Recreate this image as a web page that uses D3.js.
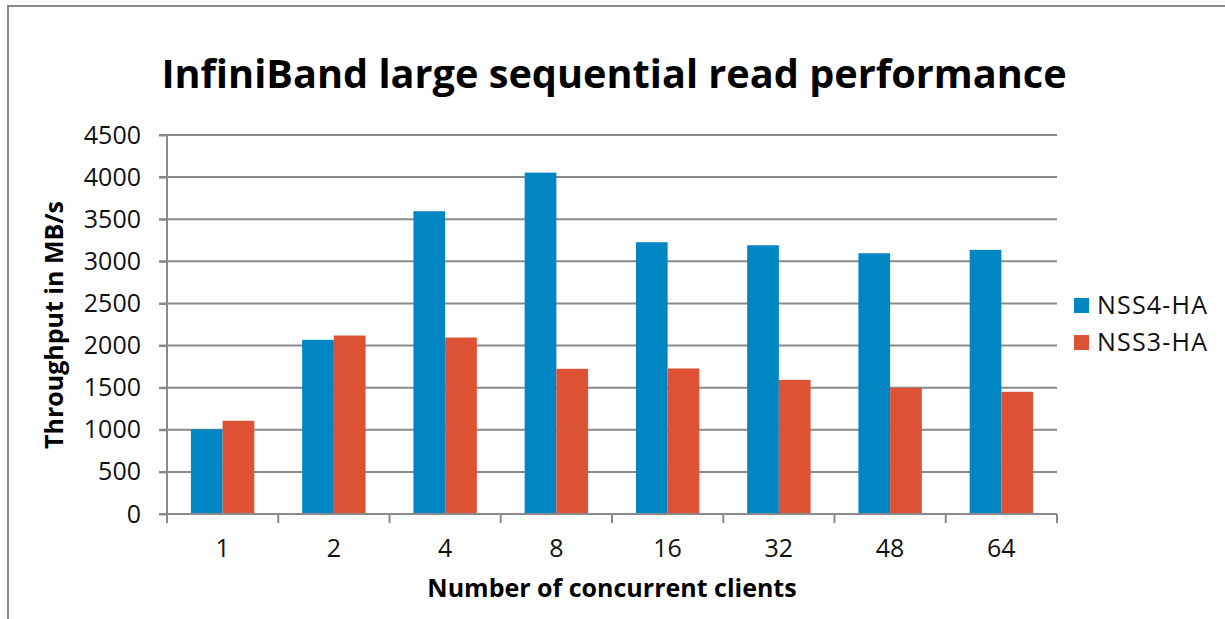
<!DOCTYPE html>
<html lang="en">
<head>
    <meta charset="UTF-8">
    <title>InfiniBand large sequential read performance</title>
    <script src="https://d3js.org/d3.v7.min.js"></script>
    <style>
        body {
            margin: 0;
            background: #fff;
            font-family: "Open Sans", Lato, sans-serif;
        }
        .grid line {
            stroke: #8a8a8a;
            stroke-width: 2;
        }
        .axis path, .axis line {
            stroke: #8a8a8a;
            stroke-width: 2;
        }
        .axis text {
            fill: #111;
            font-size: 25px;
            font-family: "Open Sans", Lato, sans-serif;
        }
    </style>
</head>
<body>
    <svg id="chart" width="1225" height="619"></svg>

    <script>
        // Données
        const clients = ["1", "2", "4", "8", "16", "32", "48", "64"];
        const seriesNames = ["NSS4-HA", "NSS3-HA"];
        const nss4 = [1005, 2068, 3595, 4053, 3227, 3191, 3096, 3136];
        const nss3 = [1107, 2119, 2095, 1724, 1728, 1593, 1498, 1451];
        const yTicks = [0, 500, 1000, 1500, 2000, 2500, 3000, 3500, 4000, 4500];

        const margin = { top: 135, right: 168, bottom: 105, left: 167 };
        const W = 1225, H = 619;
        const width = W - margin.left - margin.right;
        const height = H - margin.top - margin.bottom;

        const root = d3.select("#chart");

        // Cadre du graphique
        root.append("rect")
            .attr("x", 8)
            .attr("y", 6)
            .attr("width", W + 20)
            .attr("height", H + 20)
            .attr("fill", "none")
            .attr("stroke", "#8a8a8a")
            .attr("stroke-width", 2);

        const svg = root.append("g")
            .attr("transform", `translate(${margin.left},${margin.top})`);

        const data = clients.map((c, i) => ({ client: c, "NSS4-HA": nss4[i], "NSS3-HA": nss3[i] }));

        const x0 = d3.scaleBand().domain(clients).range([0, width]).paddingInner(0).paddingOuter(0);
        const groupW = x0.bandwidth() * 0.57;
        const x1 = d3.scaleBand().domain(seriesNames).range([0, groupW]);
        const y = d3.scaleLinear().domain([0, 4500]).range([height, 0]);

        const color = d3.scaleOrdinal().domain(seriesNames).range(["#0086c3", "#dd5235"]);

        // Lignes de grille
        svg.append("g")
            .attr("class", "grid")
            .selectAll("line")
            .data(yTicks)
            .enter()
            .append("line")
            .attr("x1", -8)
            .attr("x2", width)
            .attr("y1", d => y(d))
            .attr("y2", d => y(d));

        // Axe Y
        svg.append("g")
            .attr("class", "axis y-axis")
            .call(d3.axisLeft(y).tickValues(yTicks).tickFormat(d3.format("d")).tickSize(8).tickPadding(18))
            .call(g => g.select(".domain").attr("d", `M0,0V${height}`))
            .call(g => g.selectAll("text").attr("font-size", "26px"));

        // Barres
        svg.selectAll(".group")
            .data(data)
            .enter()
            .append("g")
            .attr("class", "group")
            .attr("transform", d => `translate(${x0(d.client) + (x0.bandwidth() - groupW) / 2},0)`)
            .selectAll("rect")
            .data(d => seriesNames.map(s => ({ s, v: d[s] })))
            .enter()
            .append("rect")
            .attr("x", d => x1(d.s))
            .attr("y", d => y(d.v))
            .attr("width", x1.bandwidth())
            .attr("height", d => height - y(d.v))
            .attr("fill", d => color(d.s));

        // Axe X : graduations aux limites des catégories
        const xAxis = svg.append("g")
            .attr("class", "axis x-axis")
            .attr("transform", `translate(0,${height})`);
        xAxis.append("line")
            .attr("x1", -8).attr("x2", width)
            .attr("y1", 0).attr("y2", 0);
        xAxis.selectAll(".tick-b")
            .data(clients.concat(["end"]))
            .enter()
            .append("line")
            .attr("class", "tick-b")
            .attr("x1", (d, i) => i * x0.bandwidth())
            .attr("x2", (d, i) => i * x0.bandwidth())
            .attr("y1", 0).attr("y2", 9);
        xAxis.selectAll(".lbl")
            .data(clients)
            .enter()
            .append("text")
            .attr("class", "lbl")
            .attr("x", d => x0(d) + x0.bandwidth() / 2)
            .attr("y", 43)
            .attr("text-anchor", "middle")
            .text(d => d);

        // Titres
        root.append("text")
            .attr("x", 614)
            .attr("y", 88)
            .attr("text-anchor", "middle")
            .attr("font-size", "39.7px")
            .attr("font-weight", "bold")
            .attr("fill", "#000")
            .text("InfiniBand large sequential read performance");

        root.append("text")
            .attr("x", 612)
            .attr("y", 597)
            .attr("text-anchor", "middle")
            .attr("font-size", "25px")
            .attr("font-weight", "bold")
            .attr("fill", "#000")
            .text("Number of concurrent clients");

        root.append("text")
            .attr("transform", "translate(63,325) rotate(-90)")
            .attr("text-anchor", "middle")
            .attr("font-size", "25px")
            .attr("font-weight", "bold")
            .attr("fill", "#000")
            .text("Throughput in MB/s");

        // Légende
        const legend = root.append("g")
            .attr("transform", "translate(1074,298)");
        seriesNames.forEach((s, i) => {
            const row = legend.append("g").attr("transform", `translate(0,${i * 37})`);
            row.append("rect")
                .attr("width", 15)
                .attr("height", 15)
                .attr("fill", color(s));
            row.append("text")
                .attr("x", 23)
                .attr("y", 16)
                .attr("font-size", "25px")
                .attr("letter-spacing", "1.2px")
                .attr("fill", "#111")
                .text(s);
        });
    </script>
</body>
</html>
